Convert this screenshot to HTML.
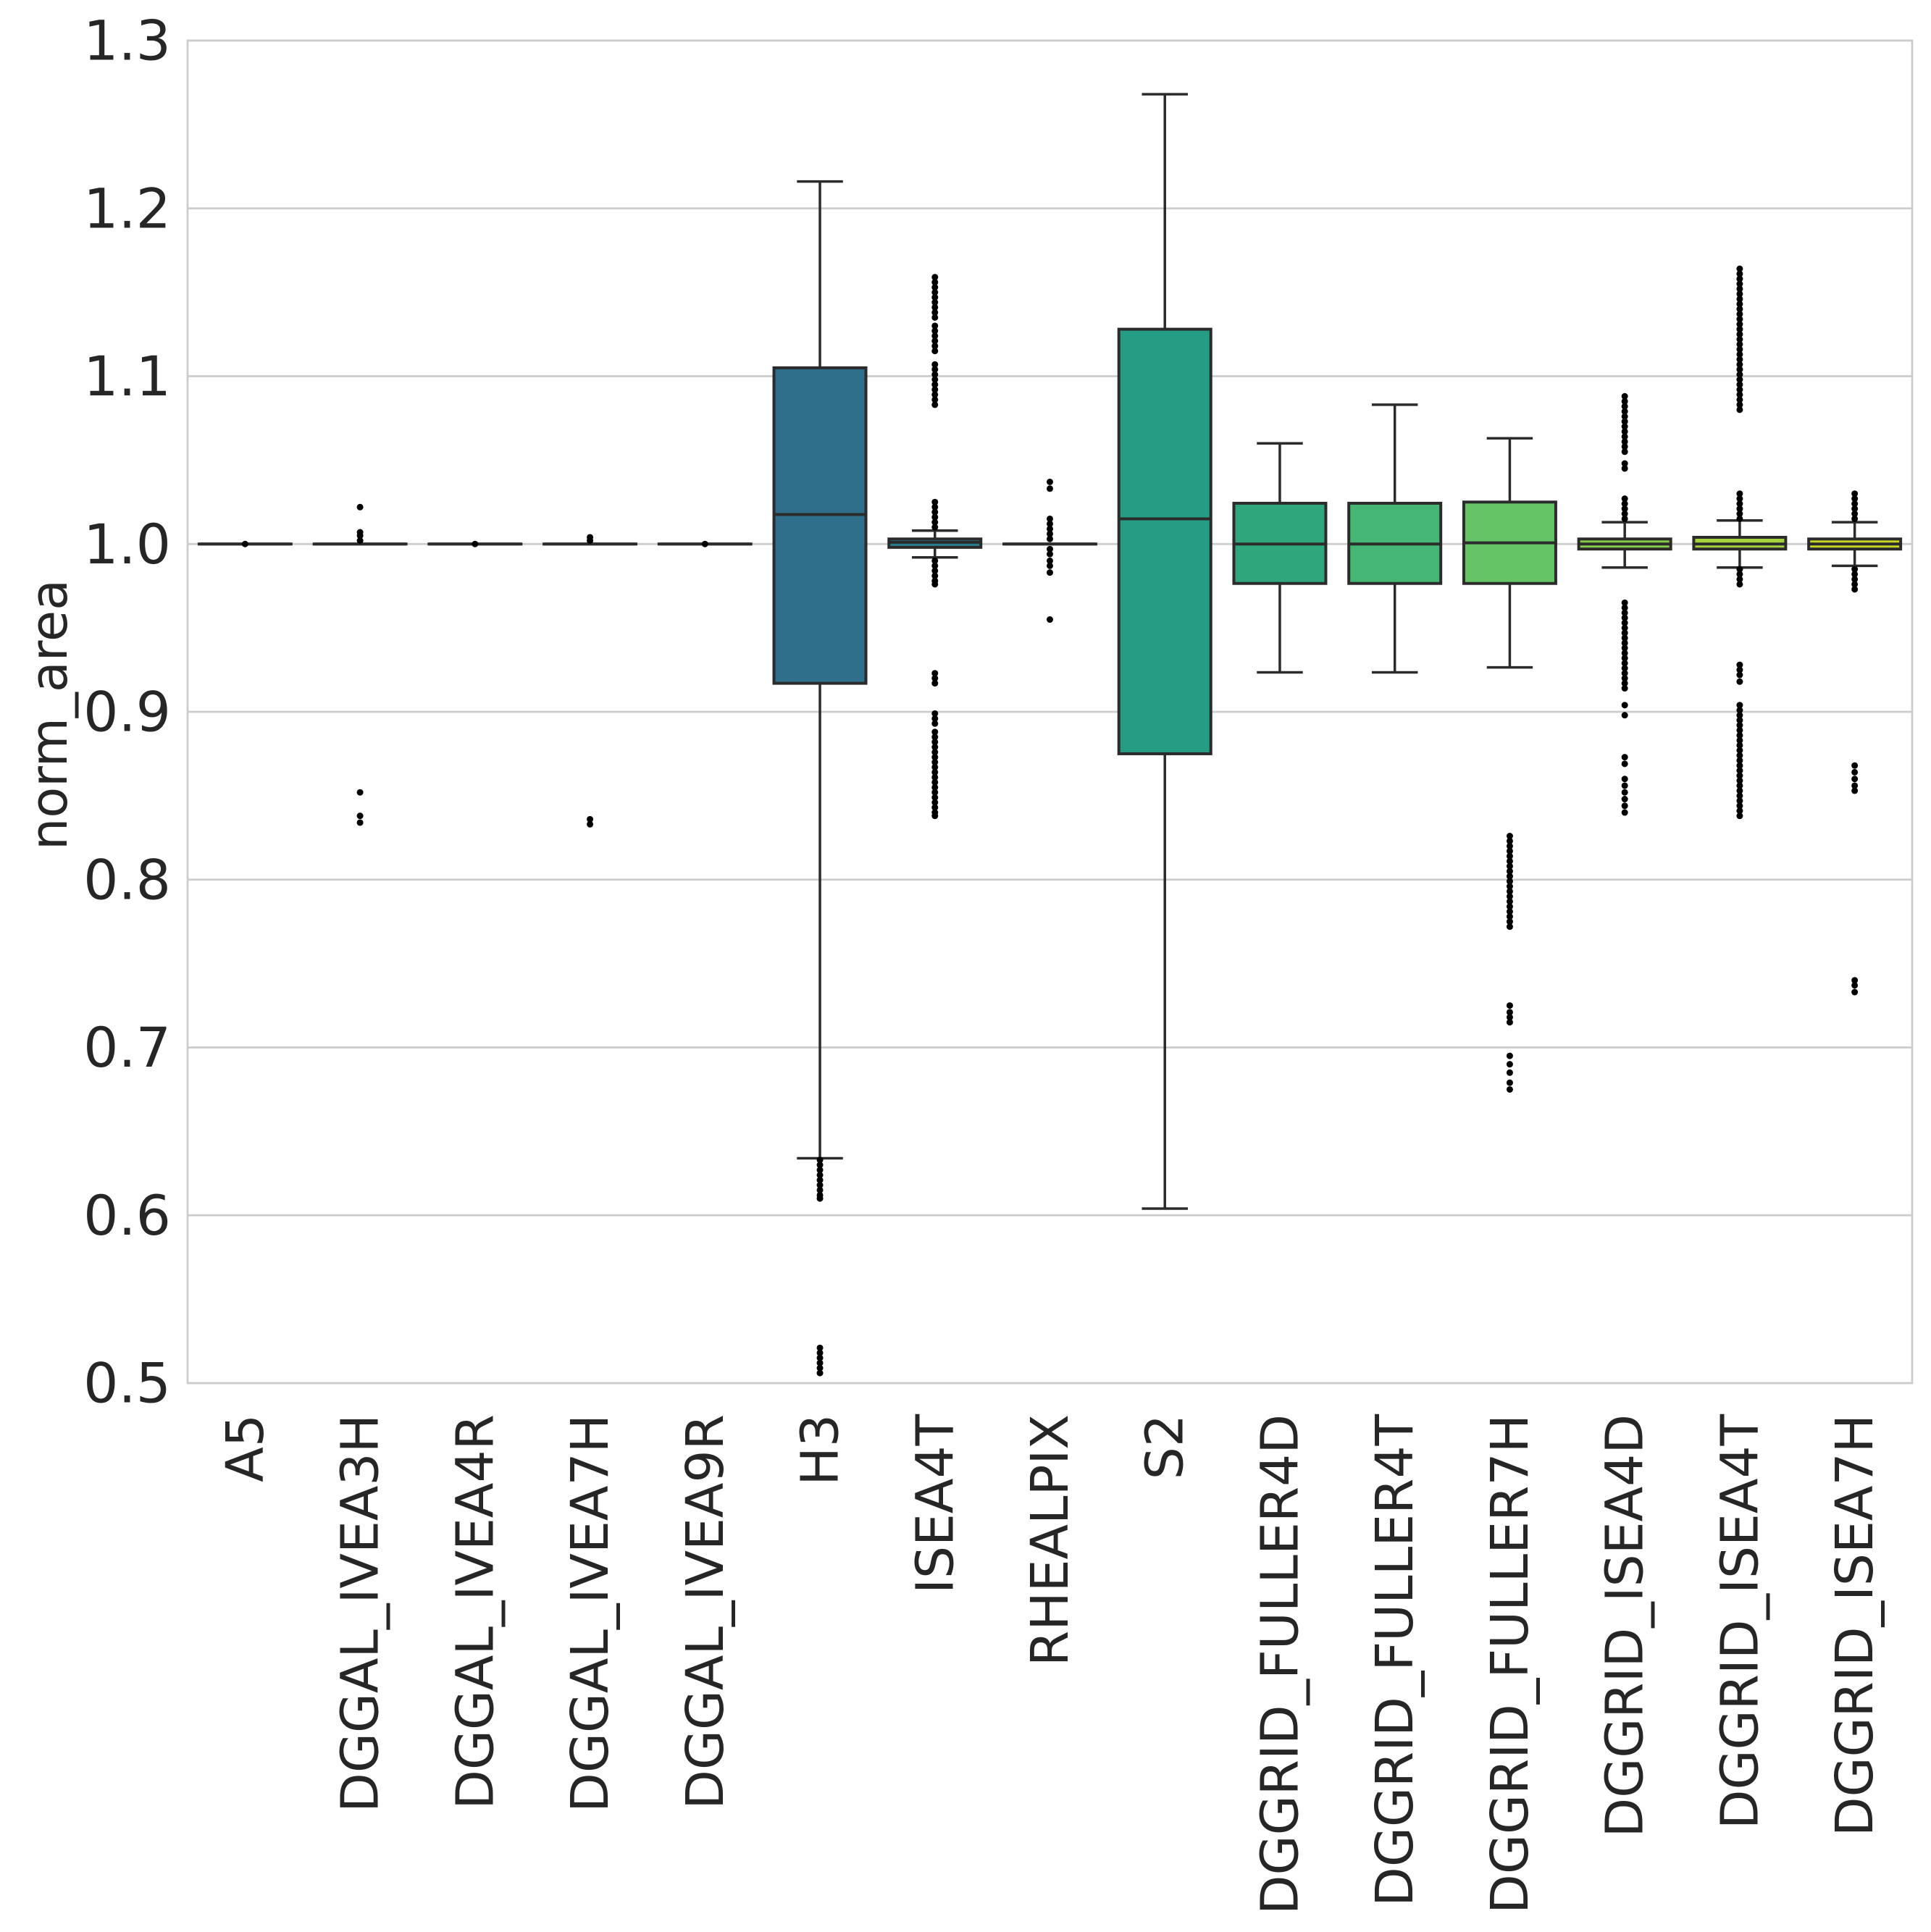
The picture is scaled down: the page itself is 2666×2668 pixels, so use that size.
<!DOCTYPE html>
<html><head><meta charset="utf-8"><style>
html,body{margin:0;padding:0;background:#fff;}
svg{display:block;font-family:"DejaVu Sans","Liberation Sans",sans-serif;}
</style></head><body>
<svg id="chart" width="2666" height="2668" viewBox="0 0 2666 2668" xmlns="http://www.w3.org/2000/svg"></svg>
<script>
const categories = ["A5","DGGAL_IVEA3H","DGGAL_IVEA4R","DGGAL_IVEA7H","DGGAL_IVEA9R","H3","ISEA4T","RHEALPIX","S2","DGGRID_FULLER4D","DGGRID_FULLER4T","DGGRID_FULLER7H","DGGRID_ISEA4D","DGGRID_ISEA4T","DGGRID_ISEA7H"];
const colors = ["#481a6c","#472c7a","#424086","#3b528b","#34618d","#2f6f8b","#2a7f8c","#24908a","#259c84","#2fa67c","#45b674","#65c466","#86cc4b","#a6d33c","#c8d524"];
const q1 = [1.0,1.0,1.0,1.0,1.0,0.917,0.998,1.0,0.875,0.9765,0.9765,0.9765,0.997,0.997,0.997];
const q3 = [1.0,1.0,1.0,1.0,1.0,1.105,1.003,1.0,1.128,1.0243,1.0243,1.025,1.003,1.004,1.003];
const medians = [1.0,1.0,1.0,1.0,1.0,1.0176,1.001,1.0,1.015,1.0,1.0,1.0007,1.0,1.0,1.0];
const whiskerLow = [1.0,1.0,1.0,1.0,1.0,0.634,0.992,1.0,0.604,0.9235,0.9235,0.9265,0.986,0.986,0.987];
const whiskerHigh = [1.0,1.0,1.0,1.0,1.0,1.216,1.008,1.0,1.268,1.06,1.083,1.063,1.013,1.014,1.013];
const outliers = [
 [1.0],
 [1.022,1.007,1.005,1.002,0.852,0.838,0.834],
 [1.0],
 [1.004,1.002,0.836,0.833],
 [1.0],
 [0.633,0.630,0.627,0.624,0.621,0.618,0.615,0.612,0.610,0.521,0.518,0.515,0.512,0.509,0.506],
 [1.010,1.013,1.016,1.019,1.022,1.025,1.083,1.086,1.089,1.092,1.095,1.098,1.101,1.104,1.107,1.115,1.118,1.121,1.124,1.127,1.13,1.135,1.138,1.141,1.144,1.147,1.15,1.153,1.156,1.159,0.99,0.987,0.984,0.981,0.978,0.976,0.923,0.920,0.917,0.899,0.896,0.893,0.888,0.885,0.882,0.879,0.876,0.873,0.870,0.867,0.864,0.861,0.858,0.855,0.852,0.849,0.846,0.843,0.840,0.838],
 [1.037,1.033,1.015,1.012,1.009,1.006,1.003,0.997,0.994,0.990,0.987,0.983,0.955],
 [],[],[],
 [0.826,0.823,0.820,0.817,0.814,0.811,0.808,0.805,0.802,0.799,0.796,0.793,0.790,0.787,0.784,0.781,0.778,0.775,0.772,0.725,0.721,0.718,0.715,0.695,0.690,0.685,0.679,0.675],
 [1.015,1.018,1.021,1.024,1.027,1.045,1.048,1.055,1.058,1.061,1.064,1.067,1.070,1.073,1.076,1.079,1.082,1.085,1.088,0.965,0.962,0.959,0.956,0.953,0.950,0.947,0.944,0.941,0.938,0.935,0.932,0.929,0.926,0.923,0.920,0.917,0.914,0.904,0.898,0.873,0.869,0.860,0.856,0.852,0.848,0.844,0.840],
 [1.015,1.018,1.021,1.024,1.027,1.030,1.080,1.083,1.086,1.089,1.092,1.095,1.098,1.101,1.104,1.107,1.110,1.113,1.116,1.119,1.122,1.125,1.128,1.131,1.134,1.137,1.140,1.143,1.146,1.149,1.152,1.155,1.158,1.161,1.164,0.985,0.982,0.979,0.976,0.928,0.925,0.922,0.918,0.904,0.901,0.898,0.895,0.892,0.889,0.886,0.883,0.880,0.877,0.874,0.871,0.868,0.865,0.862,0.859,0.856,0.853,0.850,0.847,0.844,0.841,0.838],
 [1.015,1.018,1.021,1.024,1.027,1.030,0.985,0.982,0.979,0.976,0.973,0.868,0.864,0.860,0.856,0.853,0.740,0.737,0.733]
];
const yTicks = [0.5,0.6,0.7,0.8,0.9,1.0,1.1,1.2,1.3];
const yTickLabels = ["0.5","0.6","0.7","0.8","0.9","1.0","1.1","1.2","1.3"];

const NS = "http://www.w3.org/2000/svg";
const svg = document.getElementById("chart");
const L = 259, R = 2640, T = 56, B = 1910;
const yMin = 0.5, yMax = 1.3;
const band = (R - L) / categories.length;
function y(v){ return B - (v - yMin) / (yMax - yMin) * (B - T); }
function xc(i){ return L + band * (i + 0.5); }
function mk(tag, attrs, parent){ const e = document.createElementNS(NS, tag); for (const k in attrs) e.setAttribute(k, attrs[k]); (parent||svg).appendChild(e); return e; }

yTicks.forEach((t, i) => {
  const g = mk("line", {x1:L, x2:R, y1:y(t), y2:y(t), stroke:"#cccccc", "stroke-width":2.7});
  
  
  const lb = mk("text", {x:236, y:y(t), "text-anchor":"end", "dominant-baseline":"central", "font-size":76, fill:"#262626"});
  lb.textContent = yTickLabels[i];
  
  
});

const bw = band * 0.8;
categories.forEach((c, i) => {
  const cx = xc(i);
  const g = mk("g", {});
  
  
  const st = "#2b2b2b";
  mk("line", {x1:cx, x2:cx, y1:y(q3[i]), y2:y(whiskerHigh[i]), stroke:st, "stroke-width":3.5}, g);
  mk("line", {x1:cx, x2:cx, y1:y(q1[i]), y2:y(whiskerLow[i]), stroke:st, "stroke-width":3.5}, g);
  mk("line", {x1:cx-bw/4, x2:cx+bw/4, y1:y(whiskerHigh[i]), y2:y(whiskerHigh[i]), stroke:st, "stroke-width":3.5}, g);
  mk("line", {x1:cx-bw/4, x2:cx+bw/4, y1:y(whiskerLow[i]), y2:y(whiskerLow[i]), stroke:st, "stroke-width":3.5}, g);
  mk("rect", {x:cx-bw/2, y:y(q3[i]), width:bw, height:Math.max(0.01, y(q1[i])-y(q3[i])), fill:colors[i], stroke:st, "stroke-width":4}, g);
  mk("line", {x1:cx-bw/2, x2:cx+bw/2, y1:y(medians[i]), y2:y(medians[i]), stroke:st, "stroke-width":4}, g);
  outliers[i].forEach(v => {
    const d = mk("circle", {cx:cx, cy:y(v), r:4.5, fill:"#000"}, g);
    
    
  });
  const tx = mk("text", {x:0, y:0, transform:`translate(${cx},1953) rotate(-90)`, "text-anchor":"end", "dominant-baseline":"central", "font-size":71, fill:"#262626"});
  tx.textContent = c;
  
  
});

const frame = mk("rect", {x:L, y:T, width:R-L, height:B-T, fill:"none", stroke:"#cccccc", "stroke-width":2.7});


const yl = mk("text", {x:0, y:0, transform:"translate(68,987) rotate(-90)", "text-anchor":"middle", "dominant-baseline":"central", "font-size":70, fill:"#262626"});
yl.textContent = "norm_area";


</script>
</body></html>
